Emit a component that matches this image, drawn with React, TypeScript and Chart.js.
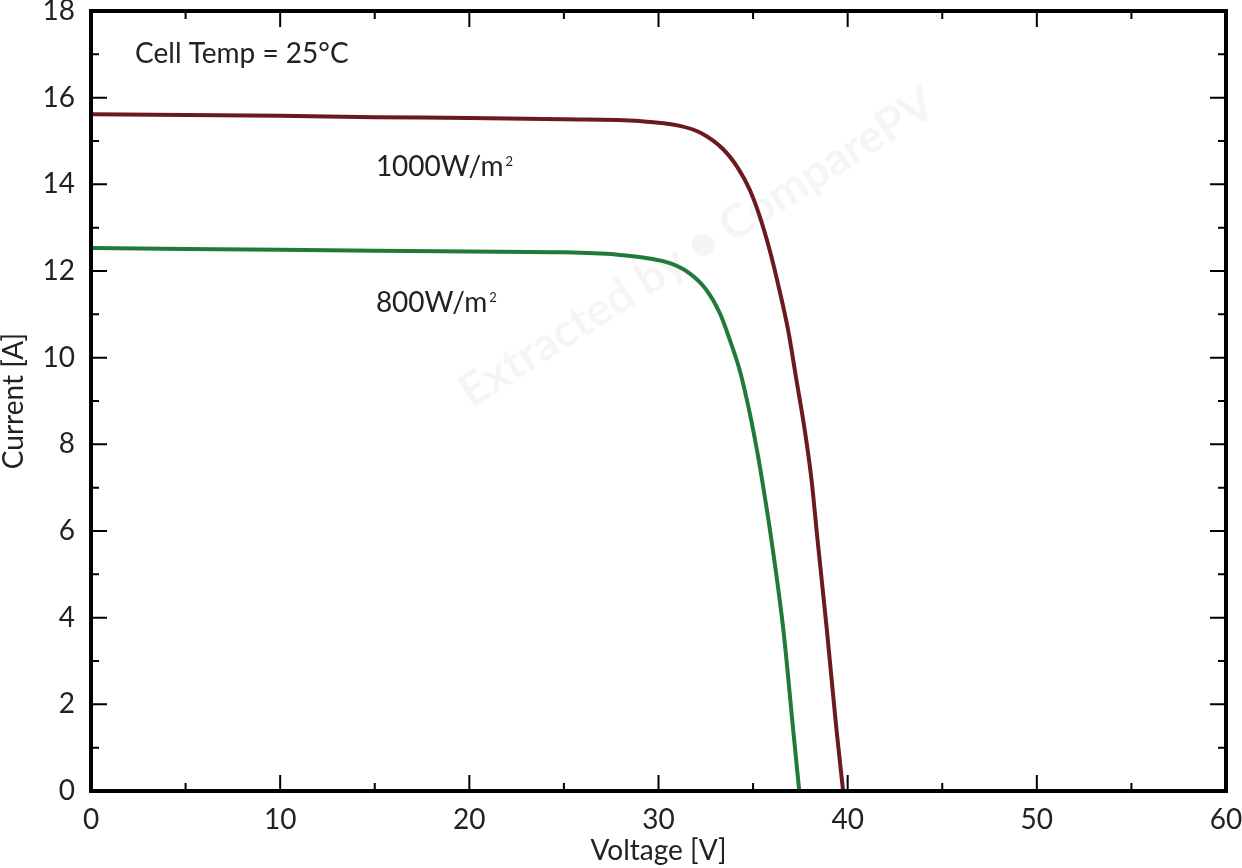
import React, { useEffect, useRef } from 'react';
import { Chart, registerables, Plugin } from 'chart.js';

Chart.register(...registerables);

// I-V curves
const v1000 = [0, 5, 10, 15, 20, 25, 29.02, 31.13, 32.27, 33.42, 34.21, 34.83, 35.36, 35.88, 36.27, 36.85, 37.29, 37.73, 38.09, 38.39, 38.9, 39.41, 39.76];
const i1000 = [15.62, 15.6, 15.58, 15.55, 15.53, 15.5, 15.46, 15.35, 15.18, 14.81, 14.37, 13.87, 13.25, 12.48, 11.79, 10.64, 9.49, 8.33, 7.18, 5.87, 3.72, 1.41, 0];

const v800 = [0, 5, 10, 15, 20, 25, 27.96, 30.6, 31.66, 32.54, 33.25, 33.77, 34.3, 34.83, 35.27, 35.62, 35.9, 36.6, 37.12, 37.44];
const i800 = [12.53, 12.51, 12.49, 12.47, 12.45, 12.43, 12.37, 12.18, 11.94, 11.56, 11.02, 10.41, 9.7, 8.71, 7.71, 6.79, 6.0, 3.72, 1.41, 0];

const seriesNames = ['1000W/m', '800W/m'];
const seriesColors = ['#6b1a1e', '#1f7a3b'];
const xTicks = [0, 10, 20, 30, 40, 50, 60];
const yTicks = [0, 2, 4, 6, 8, 10, 12, 14, 16, 18];

const FONT = 'Lato, "Noto Sans", sans-serif';
const TEXT = '#222';

const toPoints = (xs: number[], ys: number[]) => xs.map((x, k) => ({ x, y: ys[k] }));

const framePlugin: Plugin<'line'> = {
  id: 'frame',
  beforeDatasetsDraw(chart) {
    const { ctx } = chart;
    // faint watermark
    ctx.save();
    ctx.translate(697, 248);
    ctx.rotate(-0.566);
    ctx.font = `bold 46px ${FONT}`;
    ctx.fillStyle = 'rgba(0,0,0,0.04)';
    ctx.textAlign = 'center';
    ctx.textBaseline = 'middle';
    ctx.fillText('Extracted by \u25CF ComparePV', 0, 0);
    ctx.restore();
  },
  afterDraw(chart) {
    const { ctx, chartArea: a, scales } = chart;
    const xs = scales.x;
    const ys = scales.y;
    ctx.save();
    ctx.strokeStyle = '#000';
    ctx.lineWidth = 2;
    ctx.beginPath();
    for (let v = 5; v < 60; v += 5) {
      const px = xs.getPixelForValue(v);
      const len = v % 10 === 0 ? 16 : 8;
      ctx.moveTo(px, a.bottom);
      ctx.lineTo(px, a.bottom - len);
      ctx.moveTo(px, a.top);
      ctx.lineTo(px, a.top + len);
    }
    for (let v = 1; v < 18; v += 1) {
      const py = ys.getPixelForValue(v);
      const len = v % 2 === 0 ? 16 : 8;
      ctx.moveTo(a.left, py);
      ctx.lineTo(a.left + len, py);
      ctx.moveTo(a.right, py);
      ctx.lineTo(a.right - len, py);
    }
    ctx.stroke();
    ctx.lineWidth = 4;
    ctx.strokeRect(a.left, a.top, a.right - a.left, a.bottom - a.top);

    // annotations
    ctx.fillStyle = TEXT;
    ctx.textBaseline = 'alphabetic';
    ctx.textAlign = 'left';
    ctx.font = `28px ${FONT}`;
    ctx.fillText('Cell Temp = 25\u00B0C', xs.getPixelForValue(2.33), ys.getPixelForValue(16.8));
    const labelAt = [
      { v: 15.06, i: 14.19 },
      { v: 15.06, i: 11.05 },
    ];
    seriesNames.forEach((name, k) => {
      const px = xs.getPixelForValue(labelAt[k].v);
      const py = ys.getPixelForValue(labelAt[k].i);
      ctx.font = `28px ${FONT}`;
      ctx.fillText(name, px, py);
      const w = ctx.measureText(name).width;
      ctx.font = `13px ${FONT}`;
      ctx.fillText('2', px + w + 2, py - 10);
    });
    ctx.restore();
  },
};

const App: React.FC = () => {
  const canvasRef = useRef<HTMLCanvasElement>(null);
  const chartRef = useRef<Chart<'line'> | null>(null);

  useEffect(() => {
    document.body.style.margin = '0';
    const ctx = canvasRef.current?.getContext('2d');
    if (!ctx) return;

    chartRef.current = new Chart(ctx, {
      type: 'line',
      data: {
        datasets: [
          { label: seriesNames[0], data: toPoints(v1000, i1000), borderColor: seriesColors[0] },
          { label: seriesNames[1], data: toPoints(v800, i800), borderColor: seriesColors[1] },
        ].map((d) => ({
          ...d,
          borderWidth: 4,
          pointRadius: 0,
          fill: false,
          cubicInterpolationMode: 'monotone' as const,
        })),
      },
      options: {
        responsive: false,
        animation: false,
        layout: { padding: { top: 11, right: 16, left: 0, bottom: 0 } },
        plugins: { legend: { display: false }, tooltip: { enabled: false } },
        scales: {
          x: {
            type: 'linear',
            min: 0,
            max: 60,
            afterBuildTicks: (s) => {
              s.ticks = xTicks.map((value) => ({ value }));
            },
            afterFit: (s) => {
              s.height = 77;
              s.paddingLeft = 0;
              s.paddingRight = 0;
            },
            grid: { display: false, drawTicks: false },
            border: { display: false },
            ticks: { padding: 12, color: TEXT, font: { family: FONT, size: 28 }, maxRotation: 0 },
            title: {
              display: true,
              text: 'Voltage [V]',
              color: TEXT,
              font: { family: FONT, size: 28 },
              padding: { top: 0, bottom: 0 },
            },
          },
          y: {
            type: 'linear',
            min: 0,
            max: 18,
            afterBuildTicks: (s) => {
              s.ticks = yTicks.map((value) => ({ value }));
            },
            afterFit: (s) => {
              s.width = 91;
              s.paddingTop = 0;
              s.paddingBottom = 0;
            },
            grid: { display: false, drawTicks: false },
            border: { display: false },
            ticks: { padding: 16, color: TEXT, font: { family: FONT, size: 28 } },
            title: {
              display: true,
              text: 'Current [A]',
              color: TEXT,
              font: { family: FONT, size: 28 },
              padding: { top: -3, bottom: 0 },
            },
          },
        },
      },
      plugins: [framePlugin],
    });

    return () => {
      chartRef.current?.destroy();
      chartRef.current = null;
    };
  }, []);

  return (
    <div style={{ width: 1242, height: 868, background: '#fff' }}>
      <canvas ref={canvasRef} width={1242} height={868} />
    </div>
  );
};

export default App;
